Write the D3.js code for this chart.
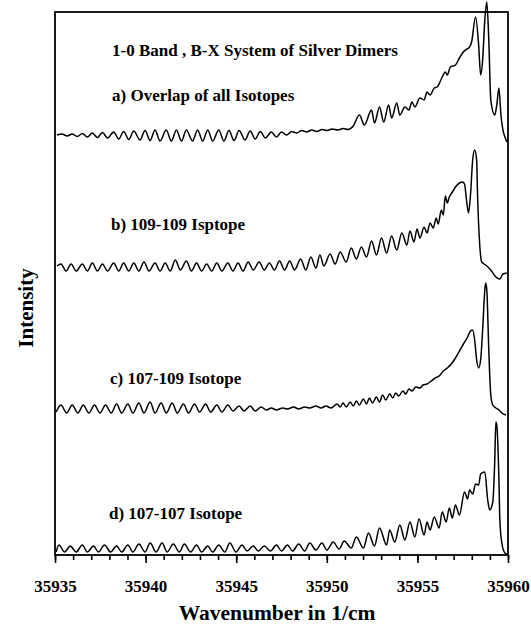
<!DOCTYPE html>
<html>
<head>
<meta charset="utf-8">
<script src="https://d3js.org/d3.v7.min.js"></script>
<style>
body { margin: 0; background: #fff; }
text { font-family: "Liberation Serif", "Times New Roman", serif; font-weight: bold; fill: #000; }
</style>
</head>
<body>
<div id="chart"></div>
<script>
// ---- data (wavenumber in 1/cm, intensity in arbitrary units above each trace's baseline)
const bandA = [[35935.11,-1],[35935.39,0],[35935.67,-2],[35935.95,0],[35936.23,-2.5],[35936.51,0.5],[35936.79,-3],[35937.06,1],[35937.34,-3.5],[35937.62,1.5],[35937.90,-4],[35938.24,2],[35938.52,-5],[35938.79,2.5],[35939.07,-5.5],[35939.35,3],[35939.69,-6],[35939.97,3.5],[35940.25,-6.5],[35940.52,4],[35940.80,-7],[35941.14,4],[35941.42,-7],[35941.70,4],[35941.98,-7],[35942.25,4],[35942.59,-7],[35942.87,4],[35943.15,-7],[35943.43,4],[35943.70,-7],[35944.04,4],[35944.32,-7],[35944.60,3.5],[35944.88,-6.5],[35945.16,3.5],[35945.49,-6],[35945.77,3],[35946.05,-5],[35946.33,2.5],[35946.61,-4],[35946.94,2],[35947.22,-3],[35947.50,2],[35947.78,-1],[35948.06,2.5],[35948.34,1],[35948.62,3.5],[35948.89,2],[35949.17,4],[35949.45,2.5],[35949.73,4.5],[35950.01,3.5],[35950.29,5],[35950.62,4],[35950.90,5.5],[35951.18,4.5],[35951.46,8],[35951.80,19],[35952.07,9],[35952.47,24],[35952.63,11],[35952.91,27],[35953.14,12],[35953.41,29],[35953.58,16],[35953.86,31],[35954.03,19],[35954.31,27],[35954.53,24],[35954.70,32],[35954.86,27],[35955.14,36],[35955.37,34],[35955.53,42],[35955.70,39],[35955.93,46],[35956.09,47],[35956.37,57],[35956.54,62],[35956.65,59],[35956.82,67],[35957.10,69],[35957.32,76],[35957.49,81],[35957.65,84],[35957.88,87],[35957.99,92],[35958.21,117],[35958.38,89],[35958.49,59],[35958.60,74],[35958.72,114],[35958.83,132],[35958.94,94],[35959.05,34],[35959.27,19],[35959.38,29],[35959.50,46],[35959.61,19],[35959.72,4],[35959.83,-3],[35959.94,-8]];

const bandB = [[35935.11,3],[35935.33,5],[35935.61,-2],[35935.89,5],[35936.17,-2],[35936.51,5],[35936.79,-2],[35937.06,6],[35937.34,-2],[35937.62,5],[35937.90,-2],[35938.24,6],[35938.52,-2],[35938.79,6],[35939.07,-2],[35939.35,6],[35939.63,-2],[35939.91,7],[35940.19,-2],[35940.52,6],[35940.80,-2],[35941.08,6],[35941.36,-2],[35941.64,9],[35941.92,-1],[35942.25,8],[35942.53,-2],[35942.81,6],[35943.09,-2],[35943.37,5],[35943.65,-2],[35943.93,6],[35944.21,-2],[35944.54,6],[35944.82,-2],[35945.10,6],[35945.38,-2],[35945.66,7],[35945.94,-1],[35946.27,7],[35946.55,-1],[35946.83,6],[35947.11,-1],[35947.39,8],[35947.67,-1],[35947.95,8],[35948.22,-1],[35948.56,10],[35948.84,-1],[35949.12,12],[35949.40,1],[35949.62,14],[35949.84,3],[35950.18,15],[35950.46,5],[35950.74,17],[35951.07,7],[35951.35,21],[35951.63,10],[35951.91,22],[35952.19,12],[35952.47,28],[35952.74,14],[35953.02,31],[35953.30,16],[35953.58,33],[35953.86,19],[35954.14,36],[35954.42,24],[35954.59,38],[35954.81,27],[35954.98,40],[35955.14,31],[35955.37,42],[35955.53,36],[35955.70,46],[35955.87,41],[35956.04,51],[35956.15,45],[35956.32,59],[35956.43,54],[35956.54,73],[35956.65,66],[35956.76,72],[35956.93,77],[35957.10,82],[35957.32,86],[35957.49,87],[35957.60,85],[35957.71,69],[35957.82,56],[35957.93,74],[35958.05,109],[35958.16,119],[35958.27,109],[35958.32,74],[35958.44,24],[35958.55,7],[35958.77,4],[35959.05,-1],[35959.33,-8],[35959.55,-10],[35959.72,-5],[35959.94,-4]];

const bandC = [[35935.06,0],[35935.33,7],[35935.64,-1],[35935.95,7],[35936.26,-1],[35936.56,7],[35936.87,-1],[35937.18,7],[35937.48,-1],[35937.79,7],[35938.10,-1],[35938.40,8],[35938.68,-1],[35939.02,8],[35939.30,-1],[35939.63,9],[35939.91,-1],[35940.25,10],[35940.52,-1],[35940.86,9],[35941.14,-1],[35941.47,9],[35941.75,-1],[35942.09,8],[35942.37,-1],[35942.70,8],[35942.98,0],[35943.31,8],[35943.59,0],[35943.93,7],[35944.21,0],[35944.54,7],[35944.82,1],[35945.16,6],[35945.43,1],[35945.77,6],[35946.05,1],[35946.38,5],[35946.66,2],[35946.94,4],[35947.22,2],[35947.56,4],[35947.83,3],[35948.17,5],[35948.45,3],[35948.78,5],[35949.06,4],[35949.40,6],[35949.68,4],[35949.95,6],[35950.23,4],[35950.57,8],[35950.74,5],[35950.90,9],[35951.07,5],[35951.29,10],[35951.46,6],[35951.63,11],[35951.80,7],[35952.02,13],[35952.19,8],[35952.35,14],[35952.52,9],[35952.74,15],[35952.91,10],[35953.08,17],[35953.25,12],[35953.47,18],[35953.64,14],[35953.80,19],[35953.97,16],[35954.20,21],[35954.36,18],[35954.53,23],[35954.70,21],[35954.92,25],[35955.14,24],[35955.31,27],[35955.53,28],[35955.76,31],[35955.98,34],[35956.20,36],[35956.43,41],[35956.65,44],[35956.87,48],[35957.10,54],[35957.32,61],[35957.54,68],[35957.77,75],[35957.93,81],[35958.05,82],[35958.16,72],[35958.27,52],[35958.38,44],[35958.49,52],[35958.60,82],[35958.72,122],[35958.77,129],[35958.83,122],[35958.94,62],[35959.05,17],[35959.16,7],[35959.33,4],[35959.50,2],[35959.66,-1],[35959.89,-3]];

const bandD = [[35935.06,0],[35935.22,7],[35935.53,0],[35935.84,6],[35936.17,0],[35936.51,7],[35936.79,0],[35937.12,6],[35937.40,0],[35937.73,7],[35938.07,0],[35938.40,6],[35938.68,0],[35939.02,7],[35939.30,0],[35939.63,8],[35939.97,0],[35940.25,9],[35940.58,0],[35940.91,9],[35941.19,0],[35941.53,8],[35941.86,0],[35942.14,8],[35942.48,0],[35942.81,7],[35943.09,0],[35943.43,6],[35943.70,0],[35944.04,7],[35944.37,0],[35944.65,9],[35944.99,0],[35945.32,7],[35945.60,1],[35945.94,6],[35946.22,1],[35946.55,6],[35946.89,1],[35947.22,7],[35947.50,1],[35947.83,7],[35948.11,1],[35948.45,8],[35948.78,1],[35949.06,9],[35949.40,2],[35949.73,9],[35950.01,2],[35950.35,10],[35950.68,3],[35950.96,11],[35951.35,4],[35951.63,15],[35952.02,4],[35952.30,19],[35952.63,6],[35952.91,24],[35953.30,7],[35953.47,22],[35953.75,10],[35954.03,27],[35954.31,12],[35954.59,30],[35954.86,15],[35955.09,33],[35955.37,17],[35955.53,30],[35955.70,22],[35955.93,35],[35956.20,24],[35956.37,40],[35956.59,30],[35956.76,44],[35956.93,34],[35957.10,47],[35957.32,37],[35957.60,60],[35957.77,53],[35957.88,62],[35958.05,58],[35958.21,68],[35958.38,67],[35958.49,78],[35958.72,80],[35958.88,52],[35958.99,42],[35959.16,50],[35959.27,92],[35959.33,130],[35959.38,127],[35959.50,72],[35959.55,32],[35959.66,9],[35959.83,-1],[35959.94,-2]];

// stacking offset of each trace (same intensity units)
const offsets = [421, 286, 143, 3];
const panelLabels = ["a) Overlap of all Isotopes", "b) 109-109 Isptope", "c) 107-109 Isotope", "d) 107-107 Isotope"];
const titleText = "1-0 Band , B-X System of Silver Dimers";
const majorTicks = [35935, 35940, 35945, 35950, 35955, 35960];
const minorTicks = d3.range(35935, 35961, 1);

// ---- layout
var width = 531, height = 626;
var plot = {left: 55, right: 508, top: 12, bottom: 555};

var x = d3.scaleLinear().domain([35935, 35960]).range([plot.left, plot.right]);
var y = d3.scaleLinear().domain([0, 543]).range([plot.bottom, plot.top]);

var svg = d3.select("#chart")
    .append("svg")
    .attr("width", width)
    .attr("height", height);

// frame round the plot
svg.append("rect")
    .attr("x", x(35935))
    .attr("y", y(543))
    .attr("width", x(35960) - x(35935))
    .attr("height", y(0) - y(543))
    .attr("fill", "none")
    .attr("stroke", "#000")
    .attr("stroke-width", 1.8);

// traces, stacked from top (a) to bottom (d)
var bands = [bandA, bandB, bandC, bandD];
bands.forEach(function(band, i) {
    var line = d3.line()
        .x(function(d) { return x(d[0]); })
        .y(function(d) { return y(d[1] + offsets[i]); })
        .curve(d3.curveMonotoneX);
    svg.append("path")
        .datum(band)
        .attr("d", line)
        .attr("fill", "none")
        .attr("stroke", "#000")
        .attr("stroke-width", 1.5)
        .attr("stroke-linejoin", "round");
});

// x axis: minor ticks every 1/cm, labelled major ticks every 5
var minorAxis = d3.axisBottom(x).tickValues(minorTicks).tickSize(5).tickFormat("");
svg.append("g")
    .attr("transform", "translate(0," + plot.bottom + ")")
    .call(minorAxis)
    .call(function(g) { g.select(".domain").remove(); })
    .selectAll("line").attr("stroke-width", 1.6);

var majorAxis = d3.axisBottom(x).tickValues(majorTicks).tickSize(8).tickPadding(17).tickFormat(d3.format("d"));
var gx = svg.append("g")
    .attr("transform", "translate(0," + plot.bottom + ")")
    .call(majorAxis)
    .call(function(g) { g.select(".domain").remove(); });
gx.selectAll("line").attr("stroke-width", 1.6);
gx.selectAll("text").style("font-size", "17px");

// axis titles
svg.append("text")
    .attr("x", 277)
    .attr("y", 620)
    .attr("text-anchor", "middle")
    .style("font-size", "21.5px")
    .text("Wavenumber in 1/cm");

svg.append("text")
    .attr("transform", "translate(33,308) rotate(-90)")
    .attr("text-anchor", "middle")
    .style("font-size", "21px")
    .text("Intensity");

// title and panel labels
svg.append("text")
    .attr("x", 112)
    .attr("y", 56)
    .style("font-size", "17px")
    .text(titleText);

var labelPos = [[112, 101], [111, 230], [110, 384], [109, 519]];
svg.selectAll(".panel-label")
    .data(panelLabels)
    .enter()
    .append("text")
    .attr("class", "panel-label")
    .attr("x", function(d, i) { return labelPos[i][0]; })
    .attr("y", function(d, i) { return labelPos[i][1]; })
    .style("font-size", "17px")
    .text(function(d) { return d; });
</script>
</body>
</html>
